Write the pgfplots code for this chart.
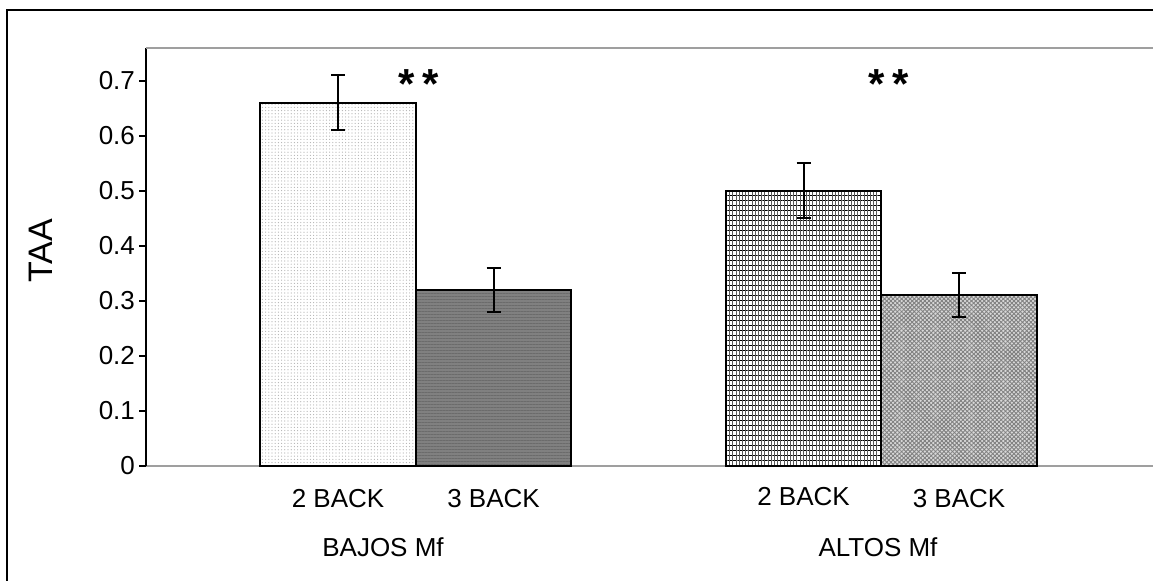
\documentclass[border=0pt]{standalone}
\usepackage{fontspec}
\setmainfont{Liberation Sans}
\usepackage{pgfplots}
\pgfplotsset{compat=1.18}
\usetikzlibrary{patterns,patterns.meta}
\begin{document}
\begin{tikzpicture}
\useasboundingbox (0,0) rectangle (576.5pt,290.5pt);
\fill[white] (0,0) rectangle (576.5pt,290.5pt);
\draw[line width=1pt] (3.5pt,0) -- (3.5pt,285.5pt) -- (576.5pt,285.5pt);
\begin{axis}[
  at={(73pt,57.5pt)}, anchor=south west,
  scale only axis, width=503.5pt, height=209pt,
  xmin=146, xmax=1153, ymin=0, ymax=0.76,
  axis x line*=bottom, axis y line*=left,
  x axis line style={draw=gray!75, line width=1pt},
  y axis line style={draw=black, line width=0.75pt},
  ytick={0,0.1,0.2,0.3,0.4,0.5,0.6,0.7},
  xtick={338,493.5,803.5,959},
  xticklabels={2 BACK,3 BACK,\raisebox{3pt}{2 BACK},3 BACK},
  x tick style={draw=none},
  y tick style={draw=black, line width=0.75pt},
  tick align=outside, major tick length=3.5pt,
  /pgf/number format/assume math mode=true,
  /pgf/number format/fixed, /pgf/number format/precision=1,
  yticklabel style={font=\fontsize{13pt}{15pt}\selectfont, xshift=1.5pt},
  xticklabel style={font=\fontsize{13pt}{15pt}\selectfont, anchor=center, yshift=-13pt},
  clip=false,
  error bars/error bar style={line width=1pt, black},
  error bars/error mark options={rotate=90, black, line width=1pt, mark size=3.5pt},
]
\addplot[ybar, bar width=155.5, bar shift=0pt, draw=black, line width=1pt, fill=white,
  postaction={pattern={Dots[distance=1.6pt, radius=0.3pt]}, pattern color=gray!60},
  error bars/.cd, y dir=both, y explicit]
  coordinates {(338,0.66) +- (0,0.05)};
\addplot[ybar, bar width=155.5, bar shift=0pt, draw=black, line width=1pt, fill=black!50,
  postaction={pattern={Lines[angle=0, distance=1.5pt, line width=0.3pt]}, pattern color=black!58},
  error bars/.cd, y dir=both, y explicit]
  coordinates {(493.5,0.32) +- (0,0.04)};
\addplot[ybar, bar width=155.5, bar shift=0pt, draw=black, line width=1pt, fill=white,
  postaction={pattern={Lines[angle=0, distance=2.5pt, line width=0.5pt]}, pattern color=black},
  postaction={pattern={Lines[angle=90, distance=1.6pt, line width=0.4pt]}, pattern color=black!65},
  error bars/.cd, y dir=both, y explicit]
  coordinates {(803.5,0.50) +- (0,0.05)};
\addplot[ybar, bar width=155.5, bar shift=0pt, draw=black, line width=1pt, fill=black!15,
  postaction={pattern={Lines[angle=45, distance=1.5pt, line width=0.45pt]}, pattern color=black!50},
  postaction={pattern={Lines[angle=-45, distance=1.5pt, line width=0.45pt]}, pattern color=black!50},
  error bars/.cd, y dir=both, y explicit]
  coordinates {(959,0.31) +- (0,0.04)};
\draw[draw=gray!75, line width=1pt] (rel axis cs:0,1) -- (rel axis cs:1,1);
\node[anchor=base, font=\fontsize{21pt}{23pt}\selectfont\bfseries] at (axis cs:419,0.668) {*\kern4pt*};
\node[anchor=base, font=\fontsize{21pt}{23pt}\selectfont\bfseries] at (axis cs:889,0.668) {*\kern4pt*};
\end{axis}
\node[rotate=90, font=\fontsize{17pt}{19pt}\selectfont] at (20.5pt,165pt) {TAA};
\node[font=\fontsize{13pt}{15pt}\selectfont] at (191.5pt,17pt) {BAJOS Mf};
\node[font=\fontsize{13pt}{15pt}\selectfont] at (439pt,17pt) {ALTOS Mf};
\end{tikzpicture}
\end{document}
